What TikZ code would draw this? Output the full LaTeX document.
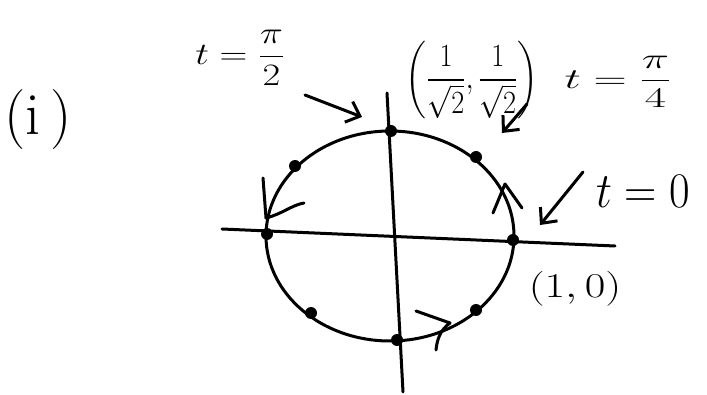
\documentclass[tikz,border=0pt]{standalone}
\usepackage{amsmath}
\usetikzlibrary{arrows.meta}
\begin{document}
\begin{tikzpicture}[x=1pt,y=-1pt,
  ink/.style={line width=3pt,line cap=round,line join=round},
  dot/.style={circle,fill=black,inner sep=0pt,minimum size=12pt},
  lbl/.style={inner sep=0pt,font=\Huge},
  ptr/.style={ink,-{Straight Barb[length=12pt,width=22pt,line width=3pt]}}]
\useasboundingbox (0,0) rectangle (707,395);
% axes
\coordinate (xl) at (222,229);
\coordinate (xr) at (615,246);
\coordinate (yt) at (387,93);
\coordinate (yb) at (403,392);
\draw[ink] (xl) -- (xr);
\draw[ink] (yt) -- (yb);
% circle
\coordinate (c) at (390,236);
\draw[ink] (c) ellipse [x radius=124, y radius=105];
% circle points
\node[dot] (p0) at (513,240) {};
\node[dot] (p1) at (476,157) {};
\node[dot] (p2) at (391,131) {};
\node[dot] (p3) at (295,166) {};
\node[dot] (p4) at (267,234) {};
\node[dot] (p5) at (311,313) {};
\node[dot] (p6) at (397,340) {};
\node[dot] (p7) at (476,310) {};
% direction marks on the circle
\draw[ink] (493,213) -- (505,184) -- (522,208);
\draw[ink] (263,178) -- (266,218) .. controls (282,214) and (292,205) .. (304,203);
\draw[ink] (416,311) -- (450,323) .. controls (440,330) and (437,340) .. (436,350);
% labels
\node[lbl,font=\fontsize{60}{62}\selectfont] (lab) at (38,120) {(i\,)};
\node[lbl] (thalf) at (240,58) {\scalebox{1.55}[1.25]{$t=\dfrac{\pi}{2}$}};
\node[lbl] (ptq) at (472,80) {\scalebox{1.14}[1.3]{$\left(\dfrac{1}{\sqrt{2}},\dfrac{1}{\sqrt{2}}\right)$}};
\node[lbl] (tquart) at (618,82) {\scalebox{1.85}[1.15]{$t=\dfrac{\pi}{4}$}};
\node[lbl] (tzero) at (643,191) {\scalebox{1.8}[2]{$t=0$}};
\node[lbl] (one) at (575,289) {\scalebox{1.8}[1.4]{$(1,0)$}};
% pointers
\coordinate (a1s) at (305,95);
\coordinate (a1e) at (362,117);
\draw[ptr] (a1s) -- (a1e);
\coordinate (a2s) at (527,104);
\coordinate (a2e) at (502,133);
\draw[ptr] (a2s) -- (a2e);
\coordinate (a3s) at (583,172);
\coordinate (a3e) at (540,225);
\draw[ptr] (a3s) -- (a3e);
\end{tikzpicture}
\end{document}
